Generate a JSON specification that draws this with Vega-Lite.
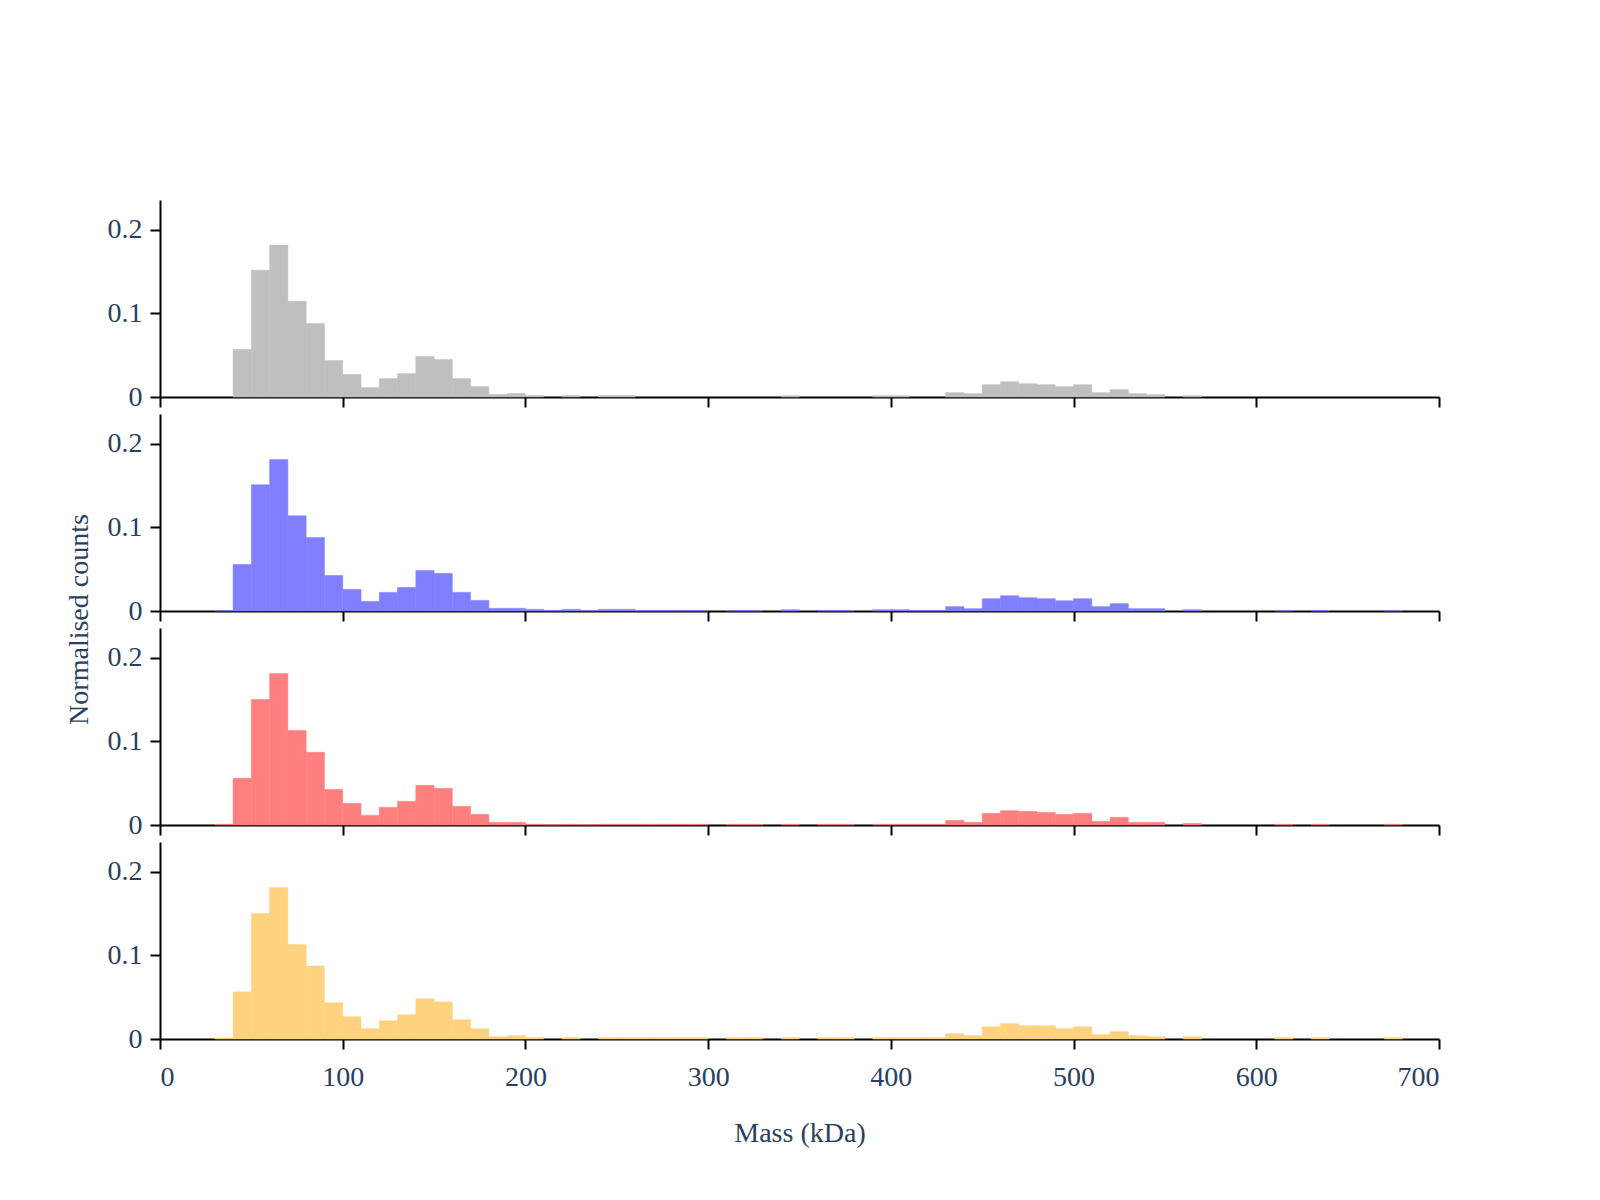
{
  "$schema": "https://vega.github.io/schema/vega-lite/v6.json",
  "padding": {"left": 65, "top": 200, "right": 5, "bottom": 5},
  "bounds": "flush",
  "spacing": 17,
  "config": {
    "font": "Liberation Serif",
    "view": {"stroke": null},
    "axis": {
      "domainColor": "black", "domainWidth": 2,
      "tickColor": "black", "tickWidth": 2, "tickSize": 10,
      "labelFont": "Liberation Serif", "labelFontSize": 28, "labelColor": "#2a3f5f",
      "titleFont": "Liberation Serif", "titleFontSize": 28, "titleColor": "#2a3f5f", "titleFontWeight": "normal",
      "grid": false
    }
  },
  "data": {"values": [
    {"panel":"A","start":40,"end":50,"value":0.0568},
    {"panel":"A","start":50,"end":60,"value":0.1516},
    {"panel":"A","start":60,"end":70,"value":0.1816},
    {"panel":"A","start":70,"end":80,"value":0.1144},
    {"panel":"A","start":80,"end":90,"value":0.088},
    {"panel":"A","start":90,"end":100,"value":0.0436},
    {"panel":"A","start":100,"end":110,"value":0.0268},
    {"panel":"A","start":110,"end":120,"value":0.0112},
    {"panel":"A","start":120,"end":130,"value":0.022},
    {"panel":"A","start":130,"end":140,"value":0.028},
    {"panel":"A","start":140,"end":150,"value":0.0484},
    {"panel":"A","start":150,"end":160,"value":0.0448},
    {"panel":"A","start":160,"end":170,"value":0.022},
    {"panel":"A","start":170,"end":180,"value":0.0124},
    {"panel":"A","start":180,"end":190,"value":0.003},
    {"panel":"A","start":190,"end":200,"value":0.0042},
    {"panel":"A","start":200,"end":210,"value":0.0018},
    {"panel":"A","start":220,"end":230,"value":0.0018},
    {"panel":"A","start":240,"end":250,"value":0.0018},
    {"panel":"A","start":250,"end":260,"value":0.0018},
    {"panel":"A","start":340,"end":350,"value":0.0016},
    {"panel":"A","start":390,"end":400,"value":0.0016},
    {"panel":"A","start":400,"end":410,"value":0.0016},
    {"panel":"A","start":430,"end":440,"value":0.0052},
    {"panel":"A","start":440,"end":450,"value":0.004},
    {"panel":"A","start":450,"end":460,"value":0.0147},
    {"panel":"A","start":460,"end":470,"value":0.0183},
    {"panel":"A","start":470,"end":480,"value":0.0159},
    {"panel":"A","start":480,"end":490,"value":0.0147},
    {"panel":"A","start":490,"end":500,"value":0.0123},
    {"panel":"A","start":500,"end":510,"value":0.0147},
    {"panel":"A","start":510,"end":520,"value":0.0052},
    {"panel":"A","start":520,"end":530,"value":0.0088},
    {"panel":"A","start":530,"end":540,"value":0.004},
    {"panel":"A","start":540,"end":550,"value":0.0028},
    {"panel":"A","start":560,"end":570,"value":0.0016},

    {"panel":"B","start":30,"end":40,"value":0.0004},
    {"panel":"B","start":40,"end":50,"value":0.0557},
    {"panel":"B","start":50,"end":60,"value":0.151},
    {"panel":"B","start":60,"end":70,"value":0.181},
    {"panel":"B","start":70,"end":80,"value":0.114},
    {"panel":"B","start":80,"end":90,"value":0.0879},
    {"panel":"B","start":90,"end":100,"value":0.0425},
    {"panel":"B","start":100,"end":110,"value":0.0258},
    {"panel":"B","start":110,"end":120,"value":0.0115},
    {"panel":"B","start":120,"end":130,"value":0.0223},
    {"panel":"B","start":130,"end":140,"value":0.0282},
    {"panel":"B","start":140,"end":150,"value":0.0485},
    {"panel":"B","start":150,"end":160,"value":0.0449},
    {"panel":"B","start":160,"end":170,"value":0.0223},
    {"panel":"B","start":170,"end":180,"value":0.0127},
    {"panel":"B","start":180,"end":190,"value":0.0032},
    {"panel":"B","start":190,"end":200,"value":0.0032},
    {"panel":"B","start":200,"end":210,"value":0.002},
    {"panel":"B","start":210,"end":220,"value":0.0004},
    {"panel":"B","start":220,"end":230,"value":0.002},
    {"panel":"B","start":230,"end":240,"value":0.0004},
    {"panel":"B","start":240,"end":250,"value":0.002},
    {"panel":"B","start":250,"end":260,"value":0.002},
    {"panel":"B","start":260,"end":270,"value":0.0004},
    {"panel":"B","start":270,"end":280,"value":0.0004},
    {"panel":"B","start":280,"end":290,"value":0.0004},
    {"panel":"B","start":290,"end":300,"value":0.0004},
    {"panel":"B","start":310,"end":320,"value":0.0004},
    {"panel":"B","start":320,"end":330,"value":0.0004},
    {"panel":"B","start":340,"end":350,"value":0.0016},
    {"panel":"B","start":360,"end":370,"value":0.0004},
    {"panel":"B","start":370,"end":380,"value":0.0004},
    {"panel":"B","start":390,"end":400,"value":0.0016},
    {"panel":"B","start":400,"end":410,"value":0.0016},
    {"panel":"B","start":410,"end":420,"value":0.0004},
    {"panel":"B","start":420,"end":430,"value":0.0004},
    {"panel":"B","start":430,"end":440,"value":0.0052},
    {"panel":"B","start":440,"end":450,"value":0.0028},
    {"panel":"B","start":450,"end":460,"value":0.0147},
    {"panel":"B","start":460,"end":470,"value":0.0183},
    {"panel":"B","start":470,"end":480,"value":0.0159},
    {"panel":"B","start":480,"end":490,"value":0.0147},
    {"panel":"B","start":490,"end":500,"value":0.0123},
    {"panel":"B","start":500,"end":510,"value":0.0147},
    {"panel":"B","start":510,"end":520,"value":0.0052},
    {"panel":"B","start":520,"end":530,"value":0.0088},
    {"panel":"B","start":530,"end":540,"value":0.0028},
    {"panel":"B","start":540,"end":550,"value":0.0028},
    {"panel":"B","start":560,"end":570,"value":0.0016},
    {"panel":"B","start":610,"end":620,"value":0.0004},
    {"panel":"B","start":630,"end":640,"value":0.0004},
    {"panel":"B","start":670,"end":680,"value":0.0004},

    {"panel":"C","start":30,"end":40,"value":0.0008},
    {"panel":"C","start":40,"end":50,"value":0.0558},
    {"panel":"C","start":50,"end":60,"value":0.150},
    {"panel":"C","start":60,"end":70,"value":0.181},
    {"panel":"C","start":70,"end":80,"value":0.113},
    {"panel":"C","start":80,"end":90,"value":0.0869},
    {"panel":"C","start":90,"end":100,"value":0.0426},
    {"panel":"C","start":100,"end":110,"value":0.0259},
    {"panel":"C","start":110,"end":120,"value":0.0116},
    {"panel":"C","start":120,"end":130,"value":0.0211},
    {"panel":"C","start":130,"end":140,"value":0.0283},
    {"panel":"C","start":140,"end":150,"value":0.0474},
    {"panel":"C","start":150,"end":160,"value":0.0438},
    {"panel":"C","start":160,"end":170,"value":0.0223},
    {"panel":"C","start":170,"end":180,"value":0.0127},
    {"panel":"C","start":180,"end":190,"value":0.0032},
    {"panel":"C","start":190,"end":200,"value":0.0032},
    {"panel":"C","start":200,"end":210,"value":0.0008},
    {"panel":"C","start":210,"end":220,"value":0.0004},
    {"panel":"C","start":220,"end":230,"value":0.0008},
    {"panel":"C","start":230,"end":240,"value":0.0004},
    {"panel":"C","start":240,"end":250,"value":0.0008},
    {"panel":"C","start":250,"end":260,"value":0.0008},
    {"panel":"C","start":260,"end":270,"value":0.0008},
    {"panel":"C","start":270,"end":280,"value":0.0008},
    {"panel":"C","start":280,"end":290,"value":0.0008},
    {"panel":"C","start":290,"end":300,"value":0.0008},
    {"panel":"C","start":310,"end":320,"value":0.0008},
    {"panel":"C","start":320,"end":330,"value":0.0008},
    {"panel":"C","start":340,"end":350,"value":0.0008},
    {"panel":"C","start":360,"end":370,"value":0.0008},
    {"panel":"C","start":370,"end":380,"value":0.0008},
    {"panel":"C","start":390,"end":400,"value":0.0008},
    {"panel":"C","start":400,"end":410,"value":0.0008},
    {"panel":"C","start":410,"end":420,"value":0.0008},
    {"panel":"C","start":420,"end":430,"value":0.0008},
    {"panel":"C","start":430,"end":440,"value":0.0056},
    {"panel":"C","start":440,"end":450,"value":0.0032},
    {"panel":"C","start":450,"end":460,"value":0.0139},
    {"panel":"C","start":460,"end":470,"value":0.0171},
    {"panel":"C","start":470,"end":480,"value":0.0163},
    {"panel":"C","start":480,"end":490,"value":0.0151},
    {"panel":"C","start":490,"end":500,"value":0.0127},
    {"panel":"C","start":500,"end":510,"value":0.0139},
    {"panel":"C","start":510,"end":520,"value":0.0044},
    {"panel":"C","start":520,"end":530,"value":0.0092},
    {"panel":"C","start":530,"end":540,"value":0.0032},
    {"panel":"C","start":540,"end":550,"value":0.0032},
    {"panel":"C","start":560,"end":570,"value":0.002},
    {"panel":"C","start":610,"end":620,"value":0.0008},
    {"panel":"C","start":630,"end":640,"value":0.0008},
    {"panel":"C","start":670,"end":680,"value":0.0008},

    {"panel":"D","start":30,"end":40,"value":0.0012},
    {"panel":"D","start":40,"end":50,"value":0.0563},
    {"panel":"D","start":50,"end":60,"value":0.150},
    {"panel":"D","start":60,"end":70,"value":0.181},
    {"panel":"D","start":70,"end":80,"value":0.113},
    {"panel":"D","start":80,"end":90,"value":0.0873},
    {"panel":"D","start":90,"end":100,"value":0.0433},
    {"panel":"D","start":100,"end":110,"value":0.0266},
    {"panel":"D","start":110,"end":120,"value":0.0123},
    {"panel":"D","start":120,"end":130,"value":0.0218},
    {"panel":"D","start":130,"end":140,"value":0.029},
    {"panel":"D","start":140,"end":150,"value":0.048},
    {"panel":"D","start":150,"end":160,"value":0.0444},
    {"panel":"D","start":160,"end":170,"value":0.023},
    {"panel":"D","start":170,"end":180,"value":0.0123},
    {"panel":"D","start":180,"end":190,"value":0.0028},
    {"panel":"D","start":190,"end":200,"value":0.004},
    {"panel":"D","start":200,"end":210,"value":0.0016},
    {"panel":"D","start":220,"end":230,"value":0.0016},
    {"panel":"D","start":240,"end":250,"value":0.0016},
    {"panel":"D","start":250,"end":260,"value":0.0016},
    {"panel":"D","start":260,"end":270,"value":0.0016},
    {"panel":"D","start":270,"end":280,"value":0.0016},
    {"panel":"D","start":280,"end":290,"value":0.0016},
    {"panel":"D","start":290,"end":300,"value":0.0016},
    {"panel":"D","start":310,"end":320,"value":0.0016},
    {"panel":"D","start":320,"end":330,"value":0.0016},
    {"panel":"D","start":340,"end":350,"value":0.0016},
    {"panel":"D","start":360,"end":370,"value":0.0016},
    {"panel":"D","start":370,"end":380,"value":0.0016},
    {"panel":"D","start":390,"end":400,"value":0.0016},
    {"panel":"D","start":400,"end":410,"value":0.0016},
    {"panel":"D","start":410,"end":420,"value":0.0016},
    {"panel":"D","start":420,"end":430,"value":0.0016},
    {"panel":"D","start":430,"end":440,"value":0.0064},
    {"panel":"D","start":440,"end":450,"value":0.004},
    {"panel":"D","start":450,"end":460,"value":0.0147},
    {"panel":"D","start":460,"end":470,"value":0.0183},
    {"panel":"D","start":470,"end":480,"value":0.0159},
    {"panel":"D","start":480,"end":490,"value":0.0159},
    {"panel":"D","start":490,"end":500,"value":0.0123},
    {"panel":"D","start":500,"end":510,"value":0.0147},
    {"panel":"D","start":510,"end":520,"value":0.0052},
    {"panel":"D","start":520,"end":530,"value":0.0088},
    {"panel":"D","start":530,"end":540,"value":0.004},
    {"panel":"D","start":540,"end":550,"value":0.0028},
    {"panel":"D","start":560,"end":570,"value":0.0028},
    {"panel":"D","start":610,"end":620,"value":0.0016},
    {"panel":"D","start":630,"end":640,"value":0.0016},
    {"panel":"D","start":670,"end":680,"value":0.0016}
  ]},
  "vconcat": [
    {
      "width": 1279, "height": 197,
      "transform": [{"filter": "datum.panel == 'A'"}],
      "mark": {"type": "bar", "color": "#bfbfbf", "stroke": "#bfbfbf", "strokeWidth": 0.5, "orient": "vertical"},
      "encoding": {
        "x": {"field": "start", "type": "quantitative", "scale": {"domain": [0, 700], "nice": false, "padding": 0},
              "axis": {"values": [0,100,200,300,400,500,600,700], "labels": false, "title": null}},
        "x2": {"field": "end"},
        "y": {"field": "value", "type": "quantitative", "scale": {"domain": [0, 0.2355], "nice": false},
              "axis": {"values": [0, 0.1, 0.2], "format": ".1~f", "title": null, "labelPadding": 8}},
        "y2": {"datum": 0}
      }
    },
    {
      "width": 1279, "height": 197,
      "transform": [{"filter": "datum.panel == 'B'"}],
      "mark": {"type": "bar", "color": "#7f7fff", "stroke": "#7f7fff", "strokeWidth": 0.5, "orient": "vertical"},
      "encoding": {
        "x": {"field": "start", "type": "quantitative", "scale": {"domain": [0, 700], "nice": false, "padding": 0},
              "axis": {"values": [0,100,200,300,400,500,600,700], "labels": false, "title": null}},
        "x2": {"field": "end"},
        "y": {"field": "value", "type": "quantitative", "scale": {"domain": [0, 0.2355], "nice": false},
              "axis": {"values": [0, 0.1, 0.2], "format": ".1~f", "title": null, "labelPadding": 8}},
        "y2": {"datum": 0}
      }
    },
    {
      "width": 1279, "height": 197,
      "transform": [{"filter": "datum.panel == 'C'"}],
      "mark": {"type": "bar", "color": "#ff7f7f", "stroke": "#ff7f7f", "strokeWidth": 0.5, "orient": "vertical"},
      "encoding": {
        "x": {"field": "start", "type": "quantitative", "scale": {"domain": [0, 700], "nice": false, "padding": 0},
              "axis": {"values": [0,100,200,300,400,500,600,700], "labels": false, "title": null}},
        "x2": {"field": "end"},
        "y": {"field": "value", "type": "quantitative", "scale": {"domain": [0, 0.2355], "nice": false},
              "axis": {"values": [0, 0.1, 0.2], "format": ".1~f", "title": "Normalised counts", "titleY": -9, "titlePadding": 14, "labelPadding": 8}},
        "y2": {"datum": 0}
      }
    },
    {
      "width": 1279, "height": 197,
      "transform": [{"filter": "datum.panel == 'D'"}],
      "mark": {"type": "bar", "color": "#ffd27f", "stroke": "#ffd27f", "strokeWidth": 0.5, "orient": "vertical"},
      "encoding": {
        "x": {"field": "start", "type": "quantitative", "scale": {"domain": [0, 700], "nice": false, "padding": 0},
              "axis": {"values": [0,100,200,300,400,500,600,700], "format": "d", "title": "Mass (kDa)", "labelPadding": 14, "titlePadding": 28}},
        "x2": {"field": "end"},
        "y": {"field": "value", "type": "quantitative", "scale": {"domain": [0, 0.2355], "nice": false},
              "axis": {"values": [0, 0.1, 0.2], "format": ".1~f", "title": null, "labelPadding": 8}},
        "y2": {"datum": 0}
      }
    }
  ]
}
